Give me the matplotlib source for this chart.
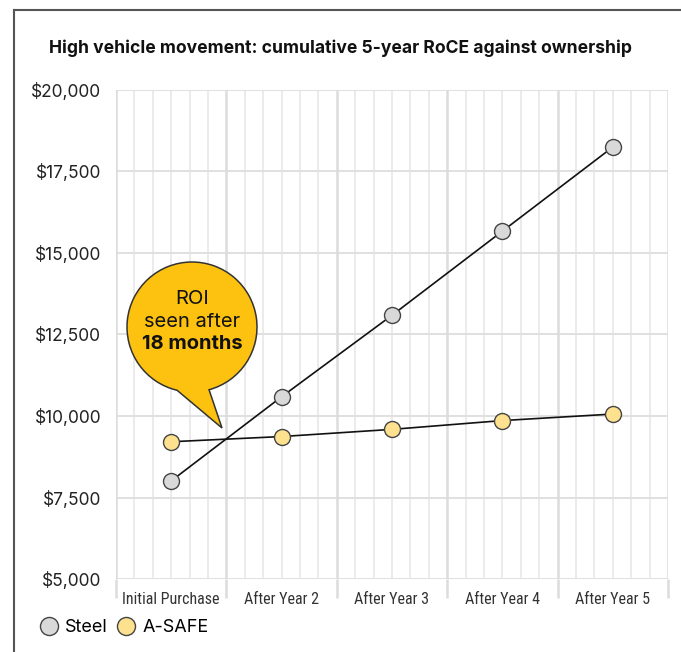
import numpy as np
import matplotlib
matplotlib.use("Agg")
import matplotlib.pyplot as plt
from matplotlib.lines import Line2D
from matplotlib.patches import PathPatch
from matplotlib.path import Path
from matplotlib.transforms import Affine2D

# data
categories = ["Initial Purchase", "After Year 2", "After Year 3", "After Year 4", "After Year 5"]
steel = [8010, 10590, 13090, 15670, 18250]
asafe = [9210, 9370, 9590, 9860, 10060]
y_ticks = [5000, 7500, 10000, 12500, 15000, 17500, 20000]
y_labels = ["\\$5,000", "\\$7,500", "\\$10,000", "\\$12,500", "\\$15,000", "\\$17,500", "\\$20,000"]
title = "High vehicle movement: cumulative 5-year RoCE against ownership"

plt.rcParams['font.family'] = ['Inter', 'Roboto', 'DejaVu Sans']
narrow = ['Liberation Sans Narrow', 'Roboto Condensed', 'Roboto', 'DejaVu Sans']

W, H = 681, 652
fig = plt.figure(figsize=(W / 100, H / 100), dpi=100)
# pixel coords, origin top-left
px = Affine2D().scale(1 / W, -1 / H).translate(0, 1) + fig.transFigure

ax = fig.add_axes([116 / W, 1 - 579 / H, (668 - 116) / W, (579 - 90) / H])
x = np.arange(len(categories))

# grid
for k in range(len(categories) * 6 + 1):
    xk = -0.5 + k / 6
    if k % 6 == 0:
        ax.axvline(xk, color='#dcdcdc', lw=1.8, zorder=0.6)
    else:
        ax.axvline(xk, color='#e6e6e6', lw=1.1, zorder=0.5)
ax.grid(axis='y', color='#e0e0e0', lw=1.4, zorder=0.7)
ax.set_axisbelow(True)

ax.plot(x, steel, color='#111111', lw=1.2, zorder=4)
ax.plot(x, asafe, color='#111111', lw=1.2, zorder=4)
ax.plot(x, steel, ls='none', marker='o', ms=11.5, mfc='#d9d9d9', mec='#444444', mew=1, zorder=6)
ax.plot(x, asafe, ls='none', marker='o', ms=11.5, mfc='#fde18f', mec='#444444', mew=1, zorder=6)

ax.set_xlim(-0.5, len(categories) - 0.5)
ax.set_ylim(5000, 20000)
ax.set_yticks(y_ticks)
ax.set_yticklabels(y_labels, fontsize=12.5, color='#222222')
ax.tick_params(axis='y', length=0, pad=10.5)
ax.set_xticks(x)
ax.set_xticklabels(categories, fontsize=11.5, color='#333333', family=narrow)
ax.set_xticks(np.arange(-0.5, len(categories), 1), minor=True)
ax.tick_params(axis='x', which='major', length=0, pad=9)
ax.tick_params(axis='x', which='minor', length=14, width=1.8, color='#dcdcdc')
for s in ax.spines.values():
    s.set_visible(False)

# speech bubble
cx, cy, r = 192, 652 - 327, 65
th1, th2 = 285.2, 256.7 + 360
arc = Path.arc(th1, th2)
verts = arc.vertices * r + [cx, cy]
verts = np.vstack([verts, [[222, 652 - 428], verts[0]]])
codes = list(arc.codes) + [Path.LINETO, Path.CLOSEPOLY]
verts[:, 1] = 652 - verts[:, 1]
bubble = PathPatch(Path(verts, codes), facecolor='#fdc20f', edgecolor='#333333', lw=1.1,
                   transform=px, clip_on=False, zorder=3)
ax.add_patch(bubble)
fig.text(192, 299, "ROI", transform=px, ha='center', va='center', fontsize=14.5, color='#111111')
fig.text(192, 322, "seen after", transform=px, ha='center', va='center', fontsize=14.5, color='#111111')
fig.text(192, 344, "18 months", transform=px, ha='center', va='center', fontsize=14.5,
         fontweight='bold', color='#111111')

# title and frame
fig.text(49, 48, title, transform=px, ha='left', va='center', fontsize=12.6,
         fontweight='bold', color='#111111')
fig.add_artist(Line2D([14, W], [10, 10], transform=px, color='#555555', lw=1.5))
fig.add_artist(Line2D([14, 14], [10, H], transform=px, color='#555555', lw=1.5))

handles = [
    Line2D([], [], ls='none', marker='o', ms=13, mfc='#d9d9d9', mec='#444444', mew=1),
    Line2D([], [], ls='none', marker='o', ms=13, mfc='#fde18f', mec='#444444', mew=1),
]
fig.legend(handles, ["Steel", "A-SAFE"], loc='center left', bbox_to_anchor=(40 / W, 1 - 628 / H),
           ncol=2, frameon=False, handlelength=1.0, handletextpad=0.4, columnspacing=0.5,
           borderpad=0, borderaxespad=0, fontsize=13)

fig.savefig("out.png", dpi=100)
